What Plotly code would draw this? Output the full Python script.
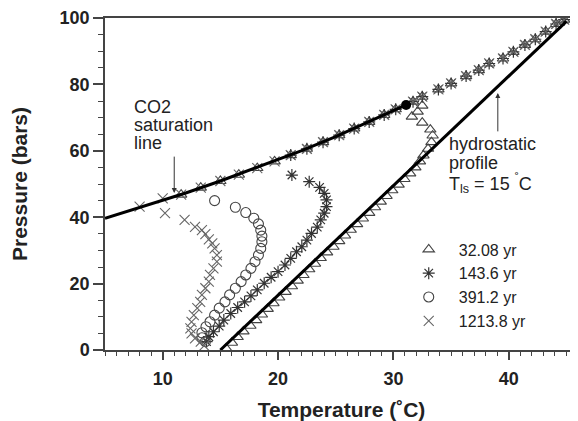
import plotly.graph_objects as go

# ---------------- data ----------------
sat_line_T = [5, 8, 10, 12, 15, 18, 20, 22, 25, 28, 30, 31.1]
sat_line_P = [39.7, 42.9, 45.0, 47.3, 50.9, 54.7, 57.3, 60.0, 64.3, 68.9, 72.1, 73.8]

hydro_T = [15, 45]
hydro_P = [0, 99]

crit_T = [31.1]
crit_P = [73.8]

# markers shared by the profiles along the saturation line and above the critical point
satm_T = [11.6, 13.3, 15.0, 16.6, 18.2, 19.7, 21.1, 22.5, 23.9, 25.3, 26.6, 27.9, 29.2, 30.2]
satm_P = [46.8, 48.9, 50.9, 52.8, 54.8, 56.8, 58.7, 60.6, 62.6, 64.7, 66.7, 68.7, 70.8, 72.5]
up_T = [31.7, 32.5, 33.9, 35.0, 36.3, 37.4, 38.3, 39.5, 40.4, 41.4, 42.3, 43.2, 44.1, 44.8]
up_P = [74.8, 76.3, 78.5, 80.3, 82.5, 84.3, 86.3, 87.8, 89.8, 91.9, 93.6, 95.9, 98.2, 99.5]

# 32.08 yr
tri_T = [15.5, 16.0, 16.5, 17.0, 17.6, 18.1, 18.6, 19.1, 19.6, 20.1, 20.65, 21.2, 21.7, 22.2,
         22.7, 23.2, 23.7, 24.25, 24.8, 25.3, 25.8, 26.3, 26.85, 27.35, 27.9, 28.4, 28.9, 29.4,
         29.9, 30.45, 30.95, 31.45, 31.9, 32.3, 32.6, 33.0, 33.3, 33.4, 33.2, 32.5, 31.6, 32.1, 32.5]
tri_P = [0.5, 2.2, 3.9, 5.6, 7.3, 9.0, 10.7, 12.4, 14.1, 15.8, 17.5, 19.2, 20.9, 22.6,
         24.3, 26.0, 27.7, 29.4, 31.1, 32.8, 34.5, 36.2, 37.9, 39.6, 41.3, 43.0, 44.7, 46.4,
         48.1, 49.8, 51.5, 53.2, 55.0, 56.8, 58.6, 60.6, 62.6, 64.6, 66.4, 68.5, 70.3, 71.8, 73.6]

# 143.6 yr
star_T = [13.8, 14.0, 14.4, 14.9, 15.3, 15.9, 16.5, 17.1, 17.65, 18.2, 18.8, 19.4, 20.0, 20.6,
          21.1, 21.6, 22.06, 22.5, 22.9, 23.4, 23.7, 24.0, 24.2, 24.2, 24.0, 23.6, 22.7, 21.2]
star_P = [2.5, 4.0, 5.5, 7.2, 9.0, 11.0, 12.8, 14.5, 16.3, 18.1, 20.1, 21.9, 23.6, 25.6,
          27.6, 29.6, 31.1, 33.1, 35.1, 37.0, 39.2, 41.2, 43.2, 45.2, 47.2, 49.0, 50.7, 52.7]

# 391.2 yr
circ_T = [13.7, 13.4, 13.4, 13.75, 14.1, 14.5, 14.9, 15.4, 15.8, 16.3, 16.8, 17.2, 17.65, 18.0,
          18.3, 18.5, 18.6, 18.6, 18.5, 18.3, 17.9, 17.2, 16.3, 14.5]
circ_P = [2.5, 3.7, 5.2, 7.0, 8.5, 10.5, 12.6, 14.5, 16.6, 18.6, 20.6, 22.6, 24.6, 26.6,
          28.6, 30.6, 32.6, 34.3, 36.1, 38.0, 39.7, 41.4, 43.0, 45.0]

# 1213.8 yr
x_T = [13.6, 13.3, 12.8, 12.5, 12.4, 12.5, 12.7, 13.0, 13.25, 13.4, 13.7, 14.0, 14.1, 14.4, 14.7,
       14.7, 14.5, 14.3, 14.0, 13.7, 13.4, 12.8, 11.9, 10.2, 8.0, 10.0]
x_P = [1.3, 2.5, 3.5, 5.0, 6.5, 8.5, 10.5, 12.6, 14.5, 16.6, 18.6, 20.6, 22.6, 24.6, 26.6,
       28.6, 30.6, 32.1, 33.3, 34.9, 36.1, 37.1, 39.2, 41.2, 43.2, 45.7]

series_names = ["32.08 yr", "143.6 yr", "391.2 yr", "1213.8 yr"]

x_major = [10, 20, 30, 40]
y_major = [0, 20, 40, 60, 80, 100]

# ---------------- figure ----------------
FONT = "Liberation Sans, Arial, Helvetica, sans-serif"
fig = go.Figure()

fig.add_trace(go.Scatter(
    x=tri_T + satm_T + up_T, y=tri_P + satm_P + up_P, mode="markers", name=series_names[0],
    marker=dict(symbol="triangle-up-open", size=10, color="#444", line=dict(width=1.1, color="#444"))))
fig.add_trace(go.Scatter(
    x=star_T + satm_T[6:] + up_T, y=star_P + satm_P[6:] + up_P, mode="markers", name=series_names[1],
    marker=dict(symbol="asterisk-open", size=10, color="#333", line=dict(width=1.2, color="#333"))))
fig.add_trace(go.Scatter(
    x=circ_T, y=circ_P, mode="markers", name=series_names[2],
    marker=dict(symbol="circle-open", size=10, color="#444", line=dict(width=1.1, color="#444"))))
fig.add_trace(go.Scatter(
    x=x_T + satm_T + up_T, y=x_P + satm_P + up_P, mode="markers", name=series_names[3],
    marker=dict(symbol="x-thin-open", size=10, color="#666", line=dict(width=1.1, color="#666"))))

fig.add_trace(go.Scatter(x=sat_line_T, y=sat_line_P, mode="lines", showlegend=False,
                         line=dict(color="black", width=3)))
fig.add_trace(go.Scatter(x=hydro_T, y=hydro_P, mode="lines", showlegend=False,
                         line=dict(color="black", width=3)))
fig.add_trace(go.Scatter(x=crit_T, y=crit_P, mode="markers", showlegend=False,
                         marker=dict(symbol="circle", size=10, color="black")))

ann_font = dict(family=FONT, size=18, color="#222")
for txt, yy in [("CO2", 73.3), ("saturation", 67.8), ("line", 62.3)]:
    fig.add_annotation(x=7.45, y=yy, text=txt, showarrow=False, xanchor="left", yanchor="middle",
                       font=ann_font, borderpad=0)
for txt, yy in [("hydrostatic", 62.2), ("profile", 56.2), ("T<sub>ls</sub> = 15 <sup>˚</sup>C", 50.2)]:
    fig.add_annotation(x=34.7, y=yy, text=txt, showarrow=False, xanchor="left", yanchor="middle",
                       font=ann_font, borderpad=0)

# arrows
fig.add_annotation(x=11.0, y=47.3, ax=11.0, ay=58.7, axref="x", ayref="y", text="",
                   showarrow=True, arrowhead=2, arrowsize=1, arrowwidth=1, arrowcolor="#333")
fig.add_annotation(x=39.05, y=77.4, ax=39.05, ay=65.4, axref="x", ayref="y", text="",
                   showarrow=True, arrowhead=2, arrowsize=1, arrowwidth=1, arrowcolor="#333")

axis_common = dict(showgrid=False, zeroline=False, ticks="outside", tickcolor="#444",
                   linecolor="#444", linewidth=1.5, tickwidth=1.5, automargin=False,
                   tickfont=dict(family=FONT, size=18, color="#222", weight="bold"))

fig.update_xaxes(range=[5, 46], tickvals=x_major, ticklen=8, mirror=True, ticklabelstandoff=4,
                 minor=dict(dtick=1, tick0=0, ticklen=4, ticks="outside", tickcolor="#444", tickwidth=1),
                 title=dict(text="Temperature (˚C)", standoff=16,
                            font=dict(family=FONT, size=21, color="#222", weight="bold")),
                 **axis_common)
fig.update_yaxes(range=[0, 100], tickvals=y_major, ticklen=10,
                 minor=dict(dtick=5, tick0=0, ticklen=5, ticks="outside", tickcolor="#444", tickwidth=1),
                 title=dict(text="Pressure (bars)", standoff=27,
                            font=dict(family=FONT, size=21, color="#222", weight="bold")),
                 **axis_common)

# the page adds an 8px body margin, so the figure is 8px smaller and its margins shifted by 8px
fig.update_layout(
    width=570, height=413,
    margin=dict(l=97, r=0, t=10, b=71),
    plot_bgcolor="white", paper_bgcolor="white",
    showlegend=True,
    legend=dict(x=0.621, y=0.354, xanchor="left", yanchor="top", bgcolor="rgba(0,0,0,0)",
                font=dict(family=FONT, size=16, color="#222"), tracegroupgap=0, itemwidth=50),
)

fig.write_html("out.html")
